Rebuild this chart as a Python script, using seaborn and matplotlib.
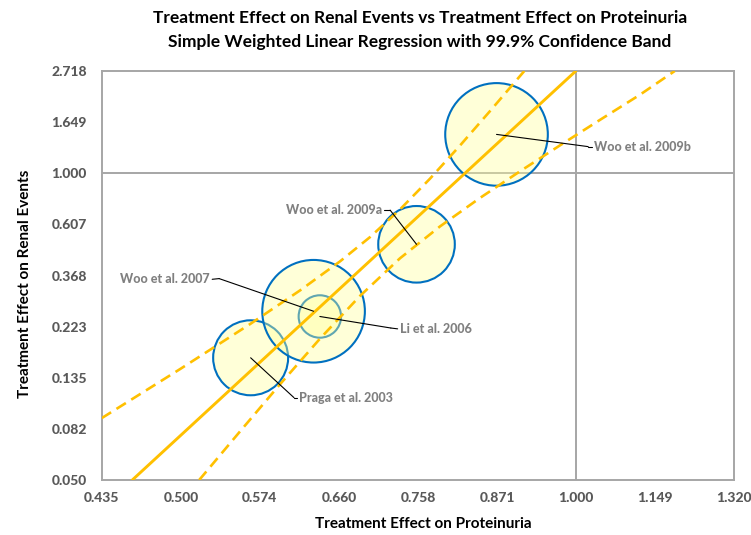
import numpy as np
import pandas as pd
import matplotlib
matplotlib.use("Agg")
import matplotlib.pyplot as plt
import seaborn as sns

# ---------------- data ----------------
studies = ["Praga et al. 2003", "Li et al. 2006", "Woo et al. 2007",
           "Woo et al. 2009a", "Woo et al. 2009b"]
prot_effect = [0.565, 0.638, 0.631, 0.756, 0.870]
renal_effect = [0.165, 0.247, 0.260, 0.500, 1.463]
study_weight = [0.534, 0.171, 1.000, 0.557, 1.000]

fit_x = [0.459, 1.000]
fit_y = [0.050, 2.718]

upper_x = [0.435, 0.4993, 0.5646, 0.6163, 0.6611, 0.6968, 0.7344, 0.7741,
           0.8160, 0.8600, 0.9135]
upper_y = [0.0915, 0.1479, 0.2296, 0.3189, 0.4235, 0.5367, 0.7031, 0.9494,
           1.3126, 1.8360, 2.718]
lower_x = [0.5162, 0.5547, 0.5950, 0.6383, 0.6847, 0.7344, 0.7878, 0.8450,
           0.9065, 0.9724, 1.0430, 1.1188, 1.1896]
lower_y = [0.050, 0.0805, 0.1275, 0.1992, 0.3022, 0.4362, 0.5954, 0.7861,
           1.0198, 1.3139, 1.6845, 2.1536, 2.718]

x_ticks = [0.435, 0.500, 0.574, 0.660, 0.758, 0.871, 1.000, 1.149, 1.320]
y_ticks = [0.050, 0.082, 0.135, 0.223, 0.368, 0.607, 1.000, 1.649, 2.718]

title_lines = ["Treatment Effect on Renal Events vs Treatment Effect on Proteinuria",
               "Simple Weighted Linear Regression with 99.9% Confidence Band"]
x_label = "Treatment Effect on Proteinuria"
y_label = "Treatment Effect on Renal Events"

# label offsets (points) relative to bubble centre: text anchor, elbow
label_layout = {
    "Praga et al. 2003": dict(text=(35.0, -28.7), elbow=(31.2, -28.7), ha="left"),
    "Li et al. 2006": dict(text=(57.5, -8.9), elbow=(51.1, -8.3), ha="left"),
    "Woo et al. 2007": dict(text=(-74.5, 23.0), elbow=(-68.0, 23.5), ha="right"),
    "Woo et al. 2009a": dict(text=(-25.0, 24.6), elbow=(-19.0, 24.6), ha="right"),
    "Woo et al. 2009b": dict(text=(70.5, -8.8), elbow=(66.0, -8.8), ha="left"),
}

# ---------------- style ----------------
sns.set_theme(style="white")
plt.rcParams["font.family"] = ["Lato", "DejaVu Sans"]
plt.rcParams["font.weight"] = "bold"
SMALL_WEIGHT = "black"

W, H = 751, 535
fig = plt.figure(figsize=(W / 100, H / 100), dpi=100)
left, right, top, bottom = 101.7, 734.0, 71.0, 480.0
ax = fig.add_axes([left / W, 1 - bottom / H, (right - left) / W, (bottom - top) / H])

df = pd.DataFrame({"study": studies, "prot": prot_effect,
                   "renal": renal_effect, "weight": study_weight})

ax.set_xscale("log")
ax.set_yscale("log")

# reference lines at 1
ax.axvline(1.0, color="#A6A6A6", lw=1.4, zorder=1)
ax.axhline(1.0, color="#A6A6A6", lw=1.4, zorder=1)

# bubbles
sns.scatterplot(data=df, x="prot", y="renal", size="weight",
                sizes=(0, 5457), size_norm=(0, 1), legend=False, ax=ax,
                zorder=2)
coll = ax.collections[-1]
coll.set_facecolor((1.0, 1.0, 0.6, 0.38))
coll.set_edgecolor("#0070C0")
coll.set_linewidth(1.5)

# regression line and confidence band
gold = "#FFC000"
sns.lineplot(x=fit_x, y=fit_y, color=gold, lw=2.1, ax=ax, zorder=3)
sns.lineplot(x=upper_x, y=upper_y, color=gold, lw=1.9, ax=ax, zorder=3)
ax.lines[-1].set_dashes([4.2, 2.4])
sns.lineplot(x=lower_x, y=lower_y, color=gold, lw=1.9, ax=ax, zorder=3)
ax.lines[-1].set_dashes([4.2, 2.4])

# axes limits first (needed for leader-line transforms)
ax.set_xlim(x_ticks[0], x_ticks[-1])
ax.set_ylim(y_ticks[0], y_ticks[-1])

# labels with leader lines
dpi_scale = fig.dpi / 72.0
for name, px, py in zip(studies, prot_effect, renal_effect):
    lay = label_layout[name]
    ex, ey = lay["elbow"]
    tx, ty = lay["text"]
    ax.annotate("", xy=(px, py), xytext=(ex, ey), textcoords="offset points",
                arrowprops=dict(arrowstyle="-", color="black", lw=0.8,
                                shrinkA=0, shrinkB=0), zorder=4)
    ax.annotate(name, xy=(px, py), xytext=(tx, ty), textcoords="offset points",
                ha=lay["ha"], va="center", fontsize=9, fontweight=SMALL_WEIGHT,
                color="#808080", zorder=5)
    c = ax.transData.transform((px, py))
    p1 = (c[0] + ex * dpi_scale, c[1] + ey * dpi_scale)
    p2 = (c[0] + (tx - np.sign(tx) * 1.5) * dpi_scale, c[1] + ty * dpi_scale)
    inv = ax.transData.inverted()
    q1 = inv.transform(p1)
    q2 = inv.transform(p2)
    ax.plot([q1[0], q2[0]], [q1[1], q2[1]], color="black", lw=0.8, zorder=4)

# axes
ax.xaxis.set_minor_locator(matplotlib.ticker.NullLocator())
ax.yaxis.set_minor_locator(matplotlib.ticker.NullLocator())
ax.set_xticks(x_ticks)
ax.set_xticklabels([f"{v:.3f}" for v in x_ticks], fontweight=SMALL_WEIGHT)
ax.set_yticks(y_ticks)
ax.set_yticklabels([f"{v:.3f}" for v in y_ticks], fontweight=SMALL_WEIGHT)
ax.tick_params(axis="both", which="major", direction="out", length=3.6,
               width=1.0, color="#A6A6A6", labelsize=10, labelcolor="#595959")
ax.tick_params(axis="x", pad=5)
ax.tick_params(axis="y", pad=7)
for sp in ax.spines.values():
    sp.set_color("#A6A6A6")
    sp.set_linewidth(1.4)
ax.set_xlabel("")
ax.set_ylabel("")

fig.text(423 / W, 1 - 524 / H, x_label, ha="center", va="center",
         fontsize=11, fontweight="bold", color="black")
fig.text(25 / W, 1 - 284 / H, y_label, ha="center", va="center", rotation=90,
         fontsize=11, fontweight="bold", color="black")
fig.text(420 / W, 1 - 18 / H, title_lines[0], ha="center", va="center",
         fontsize=12.5, fontweight="bold", color="black")
fig.text(420 / W, 1 - 42 / H, title_lines[1], ha="center", va="center",
         fontsize=12.5, fontweight="bold", color="black")

fig.savefig("out.png", dpi=100)
